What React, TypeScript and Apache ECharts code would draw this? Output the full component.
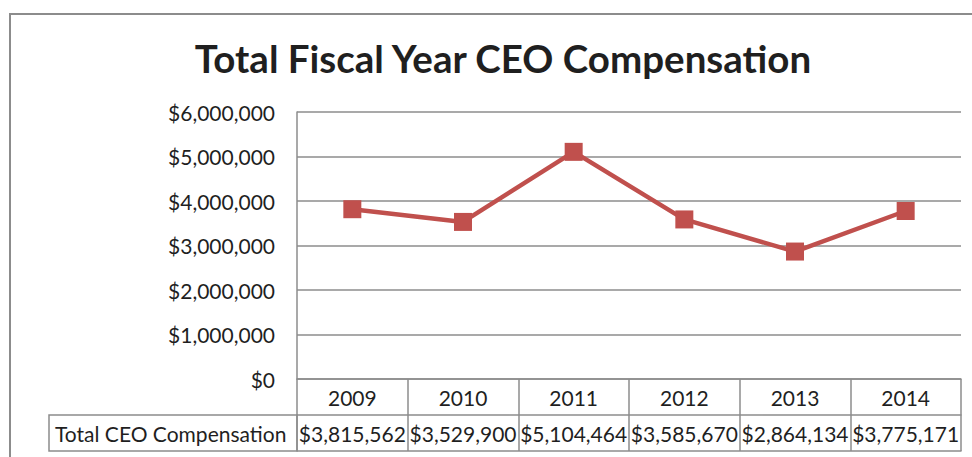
import React, { useEffect, useRef } from "react";
import * as echarts from "echarts";

const years = ["2009", "2010", "2011", "2012", "2013", "2014"];
const compensation = [3815562, 3529900, 5104464, 3585670, 2864134, 3775171];
const seriesName = "Total CEO Compensation";
const titleText = "Total Fiscal Year CEO Compensation";

const fmt = (v: number) => "$" + v.toLocaleString("en-US");

export default function App() {
  const ref = useRef<HTMLDivElement>(null);
  useEffect(() => {
    if (!ref.current) return;
    const chart = echarts.init(ref.current, undefined, { renderer: "svg" });
    const font = "Lato";
    const gray = "#8c8c8c";
    const ink = "#1f1f1f";
    const fs = 21;
    const valueLabels = compensation.map(fmt);
    chart.setOption({
      animation: false,
      backgroundColor: "#ffffff",
      title: {
        text: titleText,
        left: 498,
        textAlign: "center",
        top: 33,
        textStyle: { fontFamily: font, fontWeight: "bold", fontSize: 38.5, color: ink },
      },
      grid: { left: 297, right: 11, top: 112, bottom: 78, containLabel: false },
      xAxis: [
        {
          type: "category",
          data: years,
          boundaryGap: true,
          position: "bottom",
          axisLine: { show: true, lineStyle: { color: gray, width: 1.5 } },
          axisTick: { show: true, length: 72, interval: 0, lineStyle: { color: gray, width: 1.5 } },
          axisLabel: { fontFamily: font, fontSize: fs, color: ink, margin: 8, interval: 0 },
          splitLine: { show: false },
        },
        {
          type: "category",
          data: valueLabels,
          boundaryGap: true,
          position: "bottom",
          offset: 36,
          axisLine: { show: true, lineStyle: { color: gray, width: 1.5 } },
          axisTick: { show: false },
          axisLabel: { fontFamily: font, fontSize: fs, color: ink, margin: 8, interval: 0, hideOverlap: false },
        },
        {
          type: "category",
          data: years,
          boundaryGap: true,
          position: "bottom",
          offset: 72,
          axisLine: { show: true, lineStyle: { color: gray, width: 1.5 } },
          axisTick: { show: false },
          axisLabel: { show: false },
        },
      ],
      yAxis: {
        type: "value",
        min: 0,
        max: 6000000,
        interval: 1000000,
        axisLine: { show: true, lineStyle: { color: gray, width: 1.5 } },
        axisTick: { show: false },
        axisLabel: {
          fontFamily: font,
          fontSize: fs,
          color: ink,
          margin: 22,
          formatter: (v: number) => fmt(v),
        },
        splitLine: { show: true, lineStyle: { color: gray, width: 1.5 } },
      },
      series: [
        {
          name: seriesName,
          type: "line",
          xAxisIndex: 0,
          data: compensation,
          symbol: "rect",
          symbolSize: 18,
          lineStyle: { color: "#C0504D", width: 4.5 },
          itemStyle: { color: "#C0504D" },
        },
      ],
      graphic: [
        {
          type: "rect",
          shape: { x: 10, y: 14, width: 1000, height: 500 },
          style: { fill: "none", stroke: gray, lineWidth: 2 },
          silent: true,
        },
        {
          type: "rect",
          shape: { x: 49, y: 415, width: 248, height: 36 },
          style: { fill: "none", stroke: gray, lineWidth: 1.5 },
          silent: true,
        },
        {
          type: "text",
          x: 55,
          y: 433,
          style: {
            text: seriesName,
            fontFamily: font,
            fontSize: fs,
            fill: ink,
            verticalAlign: "middle",
          },
          silent: true,
        },
      ],
    });
    return () => chart.dispose();
  }, []);
  return (
    <div
      ref={ref}
      style={{ position: "fixed", left: 0, top: 0, width: 972, height: 457 }}
    />
  );
}
